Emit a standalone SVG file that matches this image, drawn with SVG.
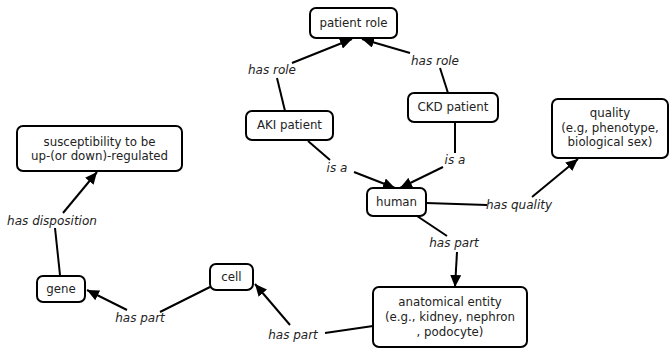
<svg xmlns="http://www.w3.org/2000/svg" width="671" height="349" viewBox="0 0 671 349">
<style>
.n rect{fill:#fff;stroke:#000;stroke-width:2}
.n text{font-family:"DejaVu Sans",Verdana,sans-serif;font-size:11.8px;fill:#222;text-anchor:middle}
.c line{stroke:#000;stroke-width:2}
.c .a{marker-end:url(#ah)}
.l text{font-family:"DejaVu Sans",Verdana,sans-serif;font-size:12px;font-style:italic;fill:#222;text-anchor:middle}
</style>
<defs>
<marker id="ah" markerUnits="userSpaceOnUse" markerWidth="13" markerHeight="11" refX="12" refY="5.5" orient="auto">
<path d="M0,0 L12,5.5 L0,11 z" fill="#000"/>
</marker>
</defs>
<rect width="671" height="349" fill="#fff"/>
<g class="c">
<line x1="285" y1="111" x2="277" y2="78"/>
<line class="a" x1="292" y1="63" x2="352" y2="39"/>
<line x1="448" y1="93" x2="440" y2="68"/>
<line class="a" x1="410" y1="53" x2="362" y2="39"/>
<line x1="308" y1="141" x2="330" y2="160"/>
<line class="a" x1="354" y1="172" x2="395" y2="188"/>
<line x1="455" y1="123" x2="455" y2="153"/>
<line class="a" x1="443" y1="167" x2="400" y2="188"/>
<line x1="426" y1="203" x2="487" y2="205"/>
<line class="a" x1="532" y1="197" x2="578" y2="159"/>
<line x1="417" y1="216" x2="447" y2="236"/>
<line class="a" x1="457" y1="252" x2="455" y2="287"/>
<line x1="373" y1="326" x2="325" y2="333"/>
<line class="a" x1="290" y1="325" x2="255" y2="284"/>
<line x1="210" y1="287" x2="160" y2="312"/>
<line class="a" x1="127" y1="310" x2="87" y2="290"/>
<line x1="60" y1="275" x2="55" y2="228"/>
<line class="a" x1="63" y1="213" x2="97" y2="172"/>
</g>
<g class="l">
<text x="272" y="74">has role</text>
<text x="435" y="65">has role</text>
<text x="337" y="172">is a</text>
<text x="455" y="164">is a</text>
<text x="519" y="209">has quality</text>
<text x="454" y="247">has part</text>
<text x="293" y="339">has part</text>
<text x="140" y="322">has part</text>
<text x="52" y="225">has disposition</text>
</g>
<g id="patient-role" class="n"><rect x="310" y="8" width="87" height="30" rx="6"/><text x="353.5" y="27">patient role</text></g>
<g id="aki-patient" class="n"><rect x="246" y="111" width="87" height="29" rx="6"/><text x="289.5" y="129">AKI patient</text></g>
<g id="ckd-patient" class="n"><rect x="408" y="93" width="90" height="29" rx="6"/><text x="453" y="111">CKD patient</text></g>
<g id="human" class="n"><rect x="367" y="188" width="59" height="28" rx="6"/><text x="396.5" y="206">human</text></g>
<g id="quality" class="n"><rect x="552" y="99" width="116" height="59" rx="6"/><text x="610" y="117">quality</text><text x="610" y="132">(e.g, phenotype,</text><text x="610" y="146">biological sex)</text></g>
<g id="susceptibility" class="n"><rect x="17" y="126" width="165" height="45" rx="6"/><text x="99.5" y="146">susceptibility to be</text><text x="99.5" y="160">up-(or down)-regulated</text></g>
<g id="gene" class="n"><rect x="37" y="276" width="48" height="26" rx="6"/><text x="61" y="293">gene</text></g>
<g id="cell" class="n"><rect x="210" y="264" width="43" height="26" rx="6"/><text x="231.5" y="281">cell</text></g>
<g id="anatomical-entity" class="n"><rect x="373" y="287" width="154" height="60" rx="6"/><text x="450" y="306">anatomical entity</text><text x="450" y="321">(e.g., kidney, nephron</text><text x="450" y="336">, podocyte)</text></g>
</svg>
